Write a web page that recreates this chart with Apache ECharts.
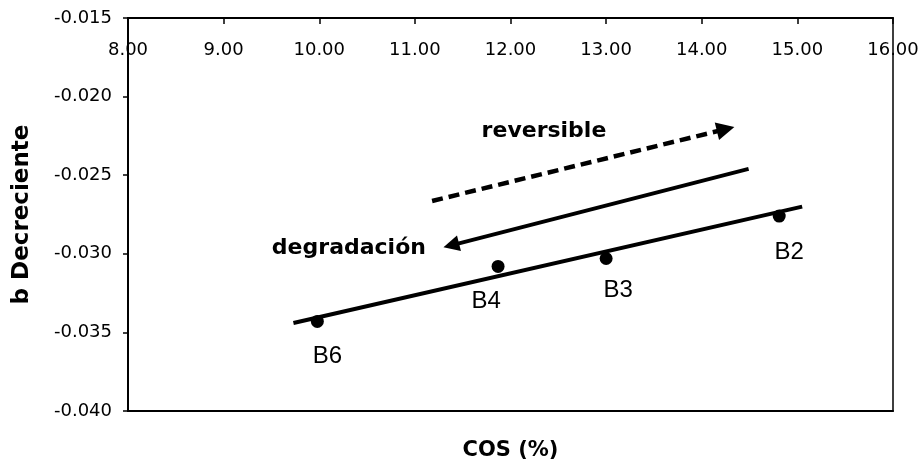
<!DOCTYPE html>
<html><head><meta charset="utf-8">
<script src="https://cdn.jsdelivr.net/npm/echarts@6/dist/echarts.min.js"></script>
<style>html,body{margin:0;padding:0;background:#fff}#c{width:922px;height:467px}</style>
</head><body><div id="c"></div>
<script>
// ---- data ----
const samples = ['B6', 'B4', 'B3', 'B2'];
const cosValues = [9.98, 11.87, 13.00, 14.81];
const bValues = [-0.0343, -0.0308, -0.0303, -0.0276];
const trendX = [9.73, 15.05];
const trendY = [-0.0344, -0.0270];
const reversibleArrowX = [11.18, 14.25];
const reversibleArrowY = [-0.02664, -0.02207];
const degradArrowX = [14.49, 11.38];
const degradArrowY = [-0.0246, -0.02946];
const annotationText = ['reversible', 'degradación'];
const annotationX = [12.35, 10.31];
const annotationY = [-0.02219, -0.02963];
const xRange = [8, 16];
const yRange = [-0.040, -0.015];

// ---- styling (not data) ----
const labelOffsets = [[10, 35], [-12, 35], [12, 32], [10, 36]];
const tickFont = { fontFamily: 'DejaVu Sans', fontSize: 18, color: '#000' };

const chart = echarts.init(document.getElementById('c'), null, { renderer: 'canvas' });
chart.setOption({
  animation: false,
  backgroundColor: '#fff',
  grid: { left: 128, right: 29, top: 18, bottom: 56, show: true, borderColor: '#000', borderWidth: 1.5 },
  xAxis: [{
    type: 'value', position: 'top', min: xRange[0], max: xRange[1], interval: 1,
    axisLine: { show: true, onZero: false, lineStyle: { color: '#000', width: 2 } },
    axisTick: { show: true, inside: true, length: 6, lineStyle: { color: '#000', width: 1.5 } },
    axisLabel: Object.assign({ inside: true, margin: 23, formatter: v => v.toFixed(2), showMinLabel: true, showMaxLabel: true }, tickFont),
    splitLine: { show: false }
  }, {
    type: 'value', position: 'bottom', min: xRange[0], max: xRange[1], interval: 1,
    name: 'COS (%)', nameLocation: 'middle', nameGap: 29,
    nameTextStyle: { fontFamily: 'DejaVu Sans', fontWeight: 'bold', fontSize: 21, color: '#000' },
    axisLine: { show: true, onZero: false, lineStyle: { color: '#000', width: 2 } },
    axisTick: { show: false }, axisLabel: { show: false }, splitLine: { show: false }
  }],
  yAxis: {
    type: 'value', min: yRange[0], max: yRange[1], interval: 0.005,
    name: 'b Decreciente', nameLocation: 'middle', nameGap: 94, nameRotate: 90,
    nameTextStyle: { fontFamily: 'DejaVu Sans', fontWeight: 'bold', fontSize: 23, color: '#000' },
    axisLine: { show: true, onZero: false, lineStyle: { color: '#000', width: 2 } },
    axisTick: { show: true, inside: false, length: 5, lineStyle: { color: '#000', width: 1.5 } },
    axisLabel: Object.assign({ margin: 16, formatter: v => v.toFixed(3) }, tickFont),
    splitLine: { show: false }
  },
  series: [{
    type: 'line', xAxisIndex: 0, silent: true, symbol: 'none',
    lineStyle: { color: '#000', width: 4, opacity: 1 },
    data: trendX.map((x, i) => [x, trendY[i]])
  }, {
    type: 'scatter', xAxisIndex: 0, symbolSize: 13, itemStyle: { color: '#000', opacity: 1 },
    data: cosValues.map((x, i) => ({
      value: [x, bValues[i]],
      label: { show: true, position: 'inside', offset: labelOffsets[i], formatter: samples[i],
        fontFamily: 'Liberation Sans', fontSize: 24, color: '#000', opacity: 1 }
    }))
  }, {
    type: 'lines', coordinateSystem: 'cartesian2d', xAxisIndex: 0, silent: true,
    symbol: ['none', 'triangle'], symbolSize: [14, 18],
    lineStyle: { color: '#000', width: 4.5, type: [11, 6], opacity: 1 },
    data: [{ coords: reversibleArrowX.map((x, i) => [x, reversibleArrowY[i]]) }]
  }, {
    type: 'lines', coordinateSystem: 'cartesian2d', xAxisIndex: 0, silent: true,
    symbol: ['none', 'triangle'], symbolSize: [13, 16],
    lineStyle: { color: '#000', width: 3.8, type: 'solid', opacity: 1 },
    data: [{ coords: degradArrowX.map((x, i) => [x, degradArrowY[i]]) }]
  }, {
    type: 'scatter', xAxisIndex: 0, silent: true, symbolSize: 1, itemStyle: { color: 'rgba(0,0,0,0)', opacity: 1 },
    data: annotationX.map((x, i) => ({
      value: [x, annotationY[i]],
      label: { show: true, position: 'inside', formatter: annotationText[i],
        fontFamily: 'DejaVu Sans', fontWeight: 'bold', fontSize: 22, color: '#000', opacity: 1 }
    }))
  }]
});
</script></body></html>
